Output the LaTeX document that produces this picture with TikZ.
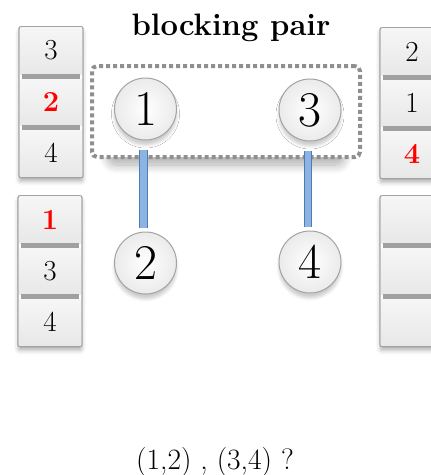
\documentclass[tikz,border=0pt]{standalone}
\usepackage{fontspec}
\usetikzlibrary{shadows.blur}

\definecolor{boxline}{HTML}{A3A3A3}
\definecolor{sepgray}{HTML}{A0A0A0}
\definecolor{celltop}{HTML}{F6F6F6}
\definecolor{cellbot}{HTML}{E8E8E8}
\definecolor{barline}{HTML}{4A7EBB}
\definecolor{barfill}{HTML}{8DB3E2}
\definecolor{dotgray}{HTML}{8F8F8F}
\definecolor{rankred}{HTML}{FF0000}

\tikzset{
  listbox/.style={draw=boxline, line width=1.3pt, fill=white, rounded corners=2pt,
    minimum width=64pt, minimum height=151pt, inner sep=0pt,
    blur shadow={shadow xshift=0pt, shadow yshift=-4pt,
      shadow blur radius=4pt, shadow opacity=28}},
  cell/.style={top color=celltop, bottom color=cellbot, minimum width=61pt,
    minimum height=46pt, inner sep=0pt, font=\fontsize{29}{29}\selectfont},
  sepbar/.style={fill=sepgray},
  agent/.style={circle, draw=boxline, line width=1pt, minimum size=62pt, inner sep=0pt,
    inner color=white, outer color=black!8, font=\fontsize{50}{50}\selectfont,
    blur shadow={shadow xshift=0pt, shadow yshift=-5pt,
      shadow blur radius=3pt, shadow opacity=20}},
  bar/.style={draw=barline, line width=1pt, double=barfill, double distance=6.5pt},
  pairshadow/.style={fill=white, rounded corners=8pt, minimum width=236pt, minimum height=84pt,
    blur shadow={shadow xshift=0pt, shadow yshift=-10pt,
      shadow blur radius=9pt, shadow blur steps=12, shadow opacity=32}},
  pairbox/.style={draw=dotgray, line width=4pt, dash pattern=on 4pt off 3pt,
    rounded corners=5pt, fill=white, minimum width=268pt, minimum height=91pt},
}

% a red, bold rank entry
\newcommand\rk[1]{\textcolor{rankred}{\bfseries #1}}

% preference list: name, centre x, top y, three entries
\newcommand\preflist[6]{%
  \node[listbox, anchor=north] (#1) at (#2,#3) {};
  \node[cell, minimum height=47pt] (#1a) at (#2,#3+24.5) {#4};
  \node[cell] (#1b) at (#2,#3+76) {#5};
  \node[cell] (#1c) at (#2,#3+127) {#6};
  \fill[sepbar] (#2-29,#3+48) rectangle (#2+29,#3+53);
  \fill[sepbar] (#2-29,#3+99) rectangle (#2+29,#3+104);
}

\begin{document}
\begin{tikzpicture}[x=1pt, y=-1pt]
  \path[use as bounding box] (0,0) rectangle (431,475);
  \clip (0,0) rectangle (431,475);

  % title
  \node[anchor=base, font=\fontsize{31}{31}\selectfont\bfseries] (title) at (231,35) {blocking pair};

  % dotted frame around the blocking pair, with its soft shadow
  \node[pairshadow] (pairshade) at (226,113) {};
  \node[pairbox] (pair) at (226,111.5) {};

  % agents
  \node[agent] (n1) at (145.5,109) {1};
  \node[agent] (n3) at (310,110) {3};
  \node[agent] (n2) at (145.5,263) {2};
  \node[agent] (n4) at (310,262) {4};

  % current matching
  \draw[bar] ([xshift=-2pt,yshift=-9pt]n1.south) -- ([xshift=-2pt,yshift=4pt]n2.north);
  \draw[bar] ([xshift=-2pt,yshift=-9pt]n3.south) -- ([xshift=-2pt,yshift=4pt]n4.north);

  % preference lists
  \preflist{p1}{51}{26}{3}{\rk{2}}{4}
  \preflist{p2}{50}{195}{\rk{1}}{3}{4}
  \preflist{p3}{412}{27}{2}{1}{\rk{4}}
  \preflist{p4}{412}{195}{}{}{}

  % question
  \node[anchor=base, font=\fontsize{29.5}{29.5}\selectfont] (question) at (215,469) {(1,2) , (3,4) ?};
\end{tikzpicture}
\end{document}
